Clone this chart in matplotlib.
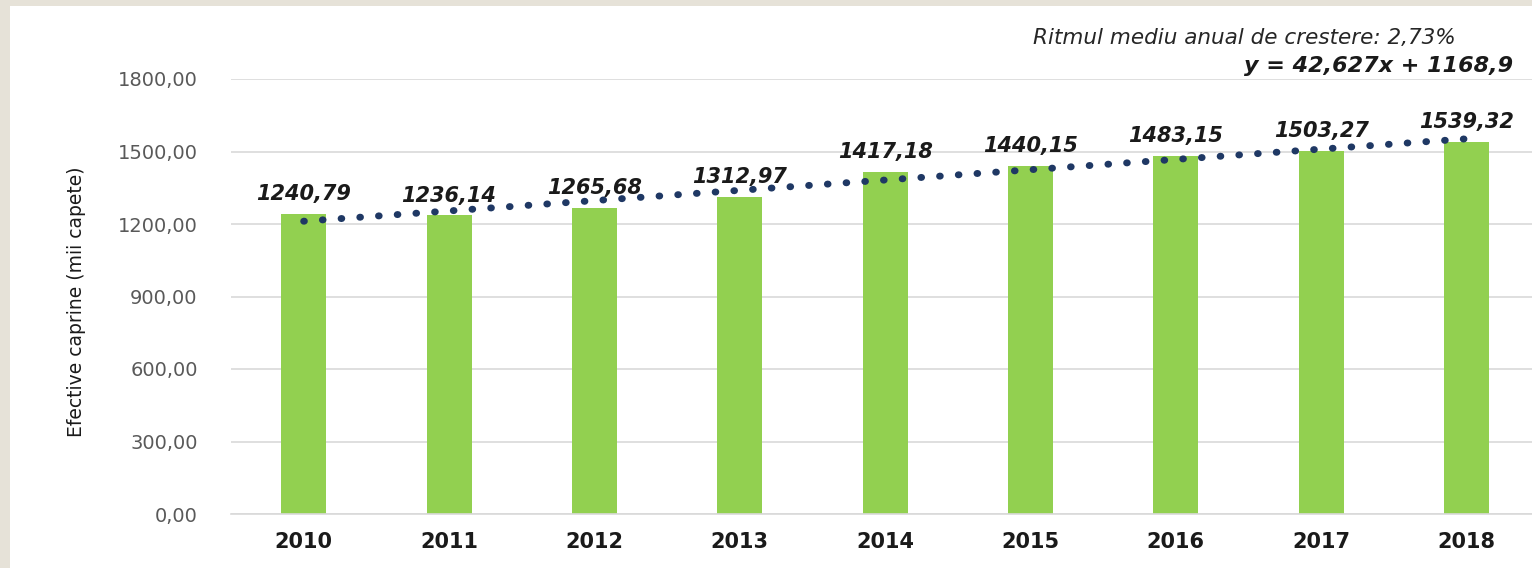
import matplotlib.pyplot as plt
from matplotlib.patches import Rectangle

years = ['2010', '2011', '2012', '2013', '2014', '2015', '2016', '2017', '2018']
values = [1240.79, 1236.14, 1265.68, 1312.97, 1417.18, 1440.15, 1483.15, 1503.27, 1539.32]
trend_slope = 42.627
trend_intercept = 1168.9
yticks = [0, 300, 600, 900, 1200, 1500, 1800]

fig = plt.figure(figsize=(15.32, 5.68), dpi=100)
fig.patch.set_facecolor('#E6E2D8')
# white chart area on the beige slide background
fig.patches.append(Rectangle((10 / 1532, 0), 1 - 10 / 1532, 1 - 6 / 568,
                             transform=fig.transFigure, facecolor='white',
                             edgecolor='none', zorder=-5))

ax = fig.add_axes([231 / 1532, 54 / 568, 1 - 231 / 1532, (514 - 79) / 568])
ax.set_facecolor('none')
ax.set_zorder(2)

x = list(range(len(years)))
ax.bar(x, values, width=0.31, color='#92D050', zorder=2)

trend = [trend_slope * (i + 1) + trend_intercept for i in x]
ax.plot(x, trend, color='#1F3864', lw=5, linestyle=(0, (0.1, 2.6)),
        dash_capstyle='round', zorder=3)

for i, v in zip(x, values):
    ax.annotate(('%.2f' % v).replace('.', ','), (i, v), xytext=(0, 7),
                textcoords='offset points', ha='center', va='bottom',
                fontsize=15, fontweight='bold', fontstyle='italic',
                color='#1A1A1A', zorder=4)

ax.set_xlim(-0.5, 8.45)
ax.set_ylim(0, 1800)
ax.set_yticks(yticks)
ax.set_yticklabels([('%.2f' % t).replace('.', ',') for t in yticks],
                   fontsize=14, color='#595959')
ax.set_xticks(x)
ax.set_xticklabels(years, fontsize=15, fontweight='bold', color='#1A1A1A')
ax.tick_params(axis='both', length=0)
ax.tick_params(axis='y', pad=24)
ax.tick_params(axis='x', pad=13)
ax.grid(axis='y', color='#D9D9D9', lw=1.2, zorder=0)
for s in ['top', 'right', 'left']:
    ax.spines[s].set_visible(False)
ax.spines['bottom'].set_color('#D9D9D9')
ax.spines['bottom'].set_linewidth(1.2)

fig.text(77 / 1532, 1 - 302 / 568, 'Efective caprine (mii capete)', rotation=90,
         ha='center', va='center', fontsize=13.5, color='#1A1A1A')
fig.text(1456 / 1532, 1 - 38 / 568, 'Ritmul mediu anual de crestere: 2,73%',
         ha='right', va='center', fontsize=15.5, fontstyle='italic', color='#262626')
fig.text(1513 / 1532, 1 - 66 / 568, 'y = 42,627x + 1168,9',
         ha='right', va='center', fontsize=16, fontweight='bold',
         fontstyle='italic', color='#1A1A1A')

fig.savefig('out.png', dpi=100, facecolor=fig.get_facecolor())
